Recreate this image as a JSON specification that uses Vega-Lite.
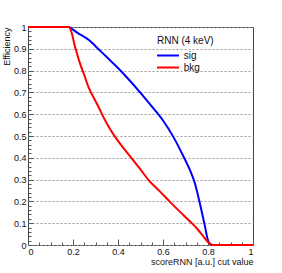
{
  "$schema": "https://vega.github.io/schema/vega-lite/v6.json",
  "width": 225,
  "height": 218,
  "autosize": {"type": "none"},
  "padding": {"left": 28, "top": 27, "right": 29, "bottom": 28},
  "background": "white",
  "config": {
    "font": "Liberation Sans",
    "view": {"stroke": "#444", "strokeWidth": 1},
    "axis": {"labelColor": "#111", "titleColor": "#111", "tickColor": "#555", "domain": false}
  },
  "data": {
    "values": [
      {"series": "sig", "cut": 0, "eff": 1},
      {"series": "sig", "cut": 0.18, "eff": 1},
      {"series": "sig", "cut": 0.19, "eff": 0.996},
      {"series": "sig", "cut": 0.2, "eff": 0.988},
      {"series": "sig", "cut": 0.225, "eff": 0.97},
      {"series": "sig", "cut": 0.25, "eff": 0.955},
      {"series": "sig", "cut": 0.275, "eff": 0.937},
      {"series": "sig", "cut": 0.3, "eff": 0.912},
      {"series": "sig", "cut": 0.325, "eff": 0.887},
      {"series": "sig", "cut": 0.35, "eff": 0.862},
      {"series": "sig", "cut": 0.4, "eff": 0.812},
      {"series": "sig", "cut": 0.45, "eff": 0.757},
      {"series": "sig", "cut": 0.5, "eff": 0.698},
      {"series": "sig", "cut": 0.55, "eff": 0.636},
      {"series": "sig", "cut": 0.6, "eff": 0.571},
      {"series": "sig", "cut": 0.646, "eff": 0.496},
      {"series": "sig", "cut": 0.69, "eff": 0.408},
      {"series": "sig", "cut": 0.72, "eff": 0.343},
      {"series": "sig", "cut": 0.742, "eff": 0.282},
      {"series": "sig", "cut": 0.764, "eff": 0.19},
      {"series": "sig", "cut": 0.787, "eff": 0.083},
      {"series": "sig", "cut": 0.8, "eff": 0.02},
      {"series": "sig", "cut": 0.81, "eff": 0.005},
      {"series": "sig", "cut": 0.82, "eff": 0},
      {"series": "sig", "cut": 1, "eff": 0},
      {"series": "bkg", "cut": 0, "eff": 1},
      {"series": "bkg", "cut": 0.18, "eff": 1},
      {"series": "bkg", "cut": 0.187, "eff": 0.994},
      {"series": "bkg", "cut": 0.195, "eff": 0.97},
      {"series": "bkg", "cut": 0.209, "eff": 0.909},
      {"series": "bkg", "cut": 0.22, "eff": 0.87},
      {"series": "bkg", "cut": 0.231, "eff": 0.833},
      {"series": "bkg", "cut": 0.25, "eff": 0.78},
      {"series": "bkg", "cut": 0.268, "eff": 0.726},
      {"series": "bkg", "cut": 0.29, "eff": 0.68},
      {"series": "bkg", "cut": 0.313, "eff": 0.634},
      {"series": "bkg", "cut": 0.342, "eff": 0.573},
      {"series": "bkg", "cut": 0.36, "eff": 0.54},
      {"series": "bkg", "cut": 0.387, "eff": 0.496},
      {"series": "bkg", "cut": 0.42, "eff": 0.45},
      {"series": "bkg", "cut": 0.461, "eff": 0.397},
      {"series": "bkg", "cut": 0.498, "eff": 0.349},
      {"series": "bkg", "cut": 0.535, "eff": 0.299},
      {"series": "bkg", "cut": 0.587, "eff": 0.245},
      {"series": "bkg", "cut": 0.631, "eff": 0.198},
      {"series": "bkg", "cut": 0.676, "eff": 0.152},
      {"series": "bkg", "cut": 0.72, "eff": 0.108},
      {"series": "bkg", "cut": 0.75, "eff": 0.077},
      {"series": "bkg", "cut": 0.779, "eff": 0.04},
      {"series": "bkg", "cut": 0.8, "eff": 0.014},
      {"series": "bkg", "cut": 0.81, "eff": 0.004},
      {"series": "bkg", "cut": 0.82, "eff": 0},
      {"series": "bkg", "cut": 1, "eff": 0}
    ]
  },
  "layer": [
    {
      "mark": {"type": "line", "opacity": 0},
      "encoding": {
        "x": {"field": "cut", "type": "quantitative", "scale": {"domain": [0, 1], "nice": false, "zero": false},
          "axis": {"orient": "bottom", "values": [0.05,0.1,0.15,0.25,0.3,0.35,0.45,0.5,0.55,0.65,0.7,0.75,0.85,0.9,0.95], "labels": false, "grid": false, "tickSize": -3, "title": null}},
        "y": {"field": "eff", "type": "quantitative", "scale": {"domain": [0, 1], "nice": false},
          "axis": {"orient": "left", "values": [0.02,0.04,0.06,0.08,0.12,0.14,0.16,0.18,0.22,0.24,0.26,0.28,0.32,0.34,0.36,0.38,0.42,0.44,0.46,0.48,0.52,0.54,0.56,0.58,0.62,0.64,0.66,0.68,0.72,0.74,0.76,0.78,0.82,0.84,0.86,0.88,0.92,0.94,0.96,0.98], "labels": false, "grid": false, "tickSize": -3, "title": null}},
        "detail": {"field": "series"}
      }
    },
    {
      "mark": {"type": "line", "strokeWidth": 2, "interpolate": "monotone"},
      "encoding": {
        "x": {"field": "cut", "type": "quantitative",
          "axis": {"orient": "bottom", "values": [0, 0.2, 0.4, 0.6, 0.8, 1], "format": "~g", "grid": false, "tickSize": -6, "labelPadding": 8, "labelFontSize": 9,
            "title": "scoreRNN [a.u.] cut value", "titleFontSize": 9, "titleFontWeight": "normal", "titleAlign": "right", "titleBaseline": "middle", "titleX": 225, "titleY": 16}},
        "y": {"field": "eff", "type": "quantitative",
          "axis": {"orient": "left", "values": [0, 0.1, 0.2, 0.3, 0.4, 0.5, 0.6, 0.7, 0.8, 0.9, 1], "format": "~g", "grid": true, "gridDash": [2, 2], "gridColor": "#999", "tickSize": -5, "labelPadding": 7, "labelFontSize": 9,
            "title": "Efficiency", "titleFontSize": 9, "titleFontWeight": "normal", "titleAlign": "right", "titleBaseline": "middle", "titleAngle": 270, "titleX": -22, "titleY": 0}},
        "color": {"field": "series", "type": "nominal", "scale": {"domain": ["sig", "bkg"], "range": ["#0000ff", "#ff0000"]},
          "legend": {"orient": "none", "legendX": 129, "legendY": 9, "title": "RNN (4 keV)", "titleFontSize": 10, "titleFontWeight": "normal", "titleColor": "#111", "titlePadding": 3,
            "labelFontSize": 10, "labelColor": "#111", "symbolType": "M-1.18,0H2.82", "symbolSize": 121, "symbolStrokeWidth": 2, "labelOffset": 13.7, "rowPadding": -1}}
      }
    }
  ],
  "resolve": {"axis": {"x": "independent", "y": "independent"}}
}
